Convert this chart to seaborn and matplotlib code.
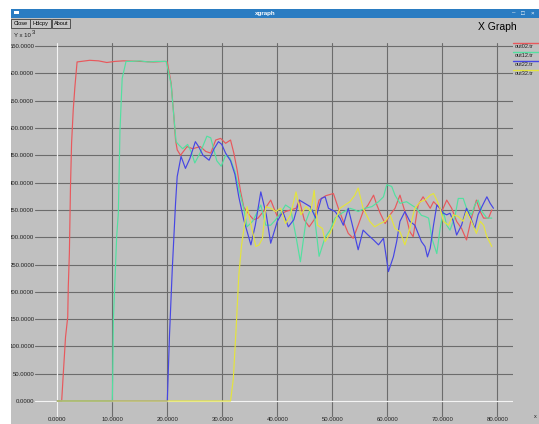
import pandas as pd
import seaborn as sns
import matplotlib
matplotlib.use("Agg")
import matplotlib.pyplot as plt
from matplotlib.patches import Rectangle
from matplotlib.lines import Line2D

# === data (x, y in units of 10^3) ===
red_x = [0, 0.8, 1.1, 1.5, 1.9, 2.0, 2.2, 2.3, 2.4, 2.6, 2.9, 3.2, 3.6, 5.9, 7.5, 9.0, 10.5, 12.0, 15.0, 17.5,
         19.6, 20.0, 20.7, 21.2, 21.5, 21.8, 22.4, 23.6, 24.6, 26.0, 27.0, 27.9, 28.8, 29.7, 30.6, 31.5, 32.1, 32.7, 33.3, 33.9,
         35.0, 35.7, 36.5, 37.3, 38.8, 39.4, 40.0, 41.5, 43.4, 44.0, 44.9, 45.8, 46.7, 47.6, 48.8, 50.2, 51.1, 52.0, 52.9, 53.8,
         54.7, 55.6, 56.5, 57.5, 58.1, 58.7, 59.6, 60.5, 61.4, 62.3, 63.2, 64.1, 64.7, 65.6, 66.5, 67.8, 68.4, 69.3, 69.9, 70.8,
         71.7, 72.6, 73.5, 74.4, 75.3, 76.2, 76.9, 77.5, 78.4, 79.0]
red_y = [0, 0, 51, 117, 154, 209, 271, 331, 392, 472, 533, 575, 621, 624, 623, 620, 622, 623, 622, 621,
         622, 621, 582, 521, 478, 460, 450, 466, 462, 466, 457, 454, 478, 481, 472, 478, 454, 423, 385, 355,
         340, 332, 335, 345, 368, 353, 338, 347, 353, 368, 332, 319, 332, 368, 376, 380, 353, 329, 307, 298,
         322, 347, 359, 377, 359, 344, 325, 341, 353, 377, 347, 310, 301, 359, 374, 353, 365, 356, 347, 368,
         353, 329, 316, 295, 335, 368, 347, 335, 335, 350]

green_x = [0, 10.0, 10.07, 10.2, 10.8, 11.1, 11.4, 11.8, 12.5, 13.5, 15.0, 16.5, 18.0, 19.8, 20.7, 21.2, 21.6, 22.0, 22.8,
           23.7, 24.4, 25.0, 26.0, 27.2, 27.9, 29.0, 29.8, 30.6, 31.4, 32.3, 33.2, 33.9, 34.5, 35.5, 36.4, 37.0, 37.9, 38.8, 39.7,
           40.6, 41.5, 42.4, 43.4, 44.2, 45.2, 46.1, 46.7, 47.6, 48.7, 49.6, 50.5, 51.7, 53.2, 54.1, 54.7, 55.9, 57.2, 58.4, 59.3,
           59.9, 60.8, 61.4, 62.3, 63.5, 64.4, 65.3, 66.2, 66.85, 67.5, 68.1, 69.0, 69.6, 70.2, 70.8, 71.4, 72.3, 72.9, 73.8, 74.4,
           75.3, 75.9, 76.5, 77.2, 78.1, 79.0]
green_y = [0, 0, 38, 148, 301, 344, 496, 591, 622, 622, 623, 621, 622, 622, 580, 520, 475, 470, 462,
           470, 455, 436, 455, 485, 482, 440, 430, 450, 445, 420, 380, 353, 319, 329, 347, 359, 322, 322, 332,
           344, 359, 353, 301, 255, 329, 353, 344, 265, 300, 313, 335, 344, 353, 350, 347, 353, 356, 365, 374,
           396, 393, 377, 362, 365, 359, 353, 340, 338, 335, 298, 270, 316, 347, 322, 313, 338, 371, 371, 353,
           341, 359, 368, 347, 335, 335]

blue_x = [0, 20.0, 20.4, 20.9, 21.5, 21.8, 22.5, 23.3, 24.1, 25.1, 25.7, 26.5, 27.6, 28.5, 29.3, 29.9, 30.6, 31.5, 32.3, 33.0,
          33.9, 35.2, 36.0, 37.0, 38.0, 38.8, 40.0, 41.0, 42.0, 43.0, 44.0, 45.0, 46.0, 47.0, 48.0, 48.7, 49.3, 50.5, 51.4, 52.0,
          52.9, 53.8, 54.7, 55.6, 56.5, 57.5, 58.4, 59.3, 60.2, 61.1, 61.7, 62.3, 63.2, 64.1, 65.0, 66.2, 66.85, 67.3, 67.8, 68.4,
          69.0, 69.6, 70.2, 70.8, 71.4, 72.0, 72.6, 73.5, 74.4, 75.3, 75.9, 76.5, 77.2, 78.1, 78.7, 79.3]
blue_y = [0, 0, 120, 240, 362, 411, 448, 426, 444, 475, 466, 450, 441, 462, 475, 470, 454, 440, 415, 374,
          332, 286, 322, 383, 341, 289, 329, 347, 319, 332, 368, 362, 356, 335, 371, 374, 353, 347, 335, 322,
          353, 316, 277, 313, 304, 295, 286, 298, 237, 264, 292, 329, 347, 329, 322, 292, 283, 264, 280, 322,
          359, 353, 344, 341, 344, 329, 304, 322, 353, 332, 316, 341, 356, 374, 362, 353]

yellow_x = [0, 31.5, 32.0, 32.5, 33.0, 33.5, 34.0, 34.5, 35.5, 36.1, 36.7, 37.3, 37.9, 38.8, 39.7, 40.6, 41.5, 42.4, 43.4, 44.3,
            45.2, 46.1, 46.7, 47.3, 48.2, 48.7, 49.6, 50.5, 51.4, 52.3, 53.2, 54.1, 54.7, 55.6, 56.2, 56.8, 57.7, 58.7, 59.6, 60.5,
            61.4, 62.3, 63.2, 64.1, 65.0, 66.0, 66.85, 67.8, 68.4, 69.0, 69.6, 70.2, 71.1, 72.0, 72.9, 73.8, 74.4, 75.3, 76.2, 76.9,
            77.5, 78.1, 79.0]
yellow_y = [0, 0, 40, 130, 230, 285, 320, 356, 310, 283, 286, 298, 356, 353, 347, 353, 325, 341, 383, 341,
            356, 347, 386, 322, 316, 292, 307, 329, 353, 359, 365, 377, 390, 353, 341, 329, 319, 325, 329, 341,
            316, 310, 286, 316, 353, 365, 368, 377, 380, 368, 353, 329, 322, 341, 338, 329, 347, 329, 307, 329,
            322, 301, 283]

series_names = ["out02.tr", "out12.tr", "out22.tr", "out32.tr"]
series_colors = ["#e8585c", "#52e0a0", "#4646e4", "#e4e43c"]

x_ticks = [0, 10, 20, 30, 40, 50, 60, 70, 80]
y_ticks = [0, 50, 100, 150, 200, 250, 300, 350, 400, 450, 500, 550, 600, 650]

frames = []
for name, xs, ys in zip(series_names, [red_x, green_x, blue_x, yellow_x], [red_y, green_y, blue_y, yellow_y]):
    frames.append(pd.DataFrame({"t": xs, "v": ys, "file": name}))
df = pd.concat(frames, ignore_index=True)

# === figure: mimic the xgraph window ===
sns.set_theme(style="white")
plt.rcParams["font.family"] = ["Liberation Sans", "DejaVu Sans"]

W, H = 539, 424
BG = "#c0c0c0"
fig = plt.figure(figsize=(W / 100, H / 100), dpi=100, facecolor=BG)


def fx(px):
    return px / W


def fy(py):
    return 1 - py / H


# window frame bits
fig.add_artist(Rectangle((0, fy(9)), 1, 1 - fy(9), transform=fig.transFigure, facecolor="white", edgecolor="none"))
fig.add_artist(Rectangle((0, 0), fx(11), 1, transform=fig.transFigure, facecolor="white", edgecolor="none"))
fig.add_artist(Rectangle((fx(11), fy(17.5)), 1 - fx(11), fy(9) - fy(17.5), transform=fig.transFigure,
                         facecolor="#2a7cc2", edgecolor="none"))
fig.add_artist(Rectangle((fx(14), fy(14)), fx(5), fy(11.5) - fy(14), transform=fig.transFigure,
                         facecolor="white", edgecolor="none"))
fig.text(fx(265), fy(13.3), "xgraph", color="white", fontsize=4.5, fontweight="bold", ha="center", va="center")
for px, s in [(514, "–"), (523, "□"), (532, "×")]:
    fig.text(fx(px), fy(13.3), s, color="white", fontsize=4.5, ha="center", va="center")

for x0, x1, label in [(11.3, 30, "Close"), (30, 50.5, "Hdcpy"), (51.5, 70, "About")]:
    fig.add_artist(Rectangle((fx(x0), fy(27.5)), fx(x1) - fx(x0), fy(19) - fy(27.5), transform=fig.transFigure,
                             facecolor="#c6c6c6", edgecolor="#404040", linewidth=0.6))
    fig.text(fx((x0 + x1) / 2), fy(23.3), label, fontsize=4, ha="center", va="center", color="black")

fig.text(fx(478), fy(26.5), "X Graph", fontsize=7.5, ha="left", va="center", color="black")
fig.text(fx(14), fy(35.5), "Y x 10", fontsize=4.3, ha="left", va="center", color="#202020")
fig.text(fx(32), fy(33), "3", fontsize=4.3, ha="left", va="center", color="#202020")

# plot area
ax = fig.add_axes([fx(35), fy(417), fx(513) - fx(35), fy(43) - fy(417)])
ax.set_facecolor(BG)

sns.lineplot(data=df, x="t", y="v", hue="file", hue_order=series_names, palette=series_colors,
             estimator=None, sort=False, legend=False, linewidth=0.85, ax=ax)

ax.set_xlim(-4.05, 82.85)
ax.set_ylim(-29.3, 655.7)
ax.set_xticks(x_ticks)
ax.set_yticks(y_ticks)
ax.set_xticklabels([f"{v:.4f}" for v in x_ticks], fontsize=4.3)
ax.set_yticklabels([f"{v:.4f}" for v in y_ticks], fontsize=4.3)
ax.tick_params(axis="both", length=0, colors="#202020")
ax.tick_params(axis="y", pad=0.5)
ax.tick_params(axis="x", pad=0.2)
ax.grid(True, color="#6c6c6c", linewidth=0.8)
ax.set_axisbelow(True)
ax.axhline(0, color="#f4f4f4", linewidth=0.9, zorder=1.5)
ax.axvline(0, color="#f4f4f4", linewidth=0.9, zorder=1.5)
ax.set_xlabel("")
ax.set_ylabel("")
for sp in ax.spines.values():
    sp.set_visible(False)

# xgraph style legend: colour bar above each file name
for name, col, yl in zip(series_names, series_colors, [42.7, 52.3, 61.0, 70.3]):
    fig.add_artist(Line2D([fx(513), fx(539)], [fy(yl), fy(yl)], color=col, linewidth=1.0,
                          transform=fig.transFigure))
    fig.text(fx(514.5), fy(yl + 3.3), name, fontsize=4, ha="left", va="center", color="#202020")

fig.text(fx(534), fy(416), "x", fontsize=4, ha="left", va="center", color="#202020")

plt.savefig("out.png", dpi=100, facecolor=BG)
plt.close()
